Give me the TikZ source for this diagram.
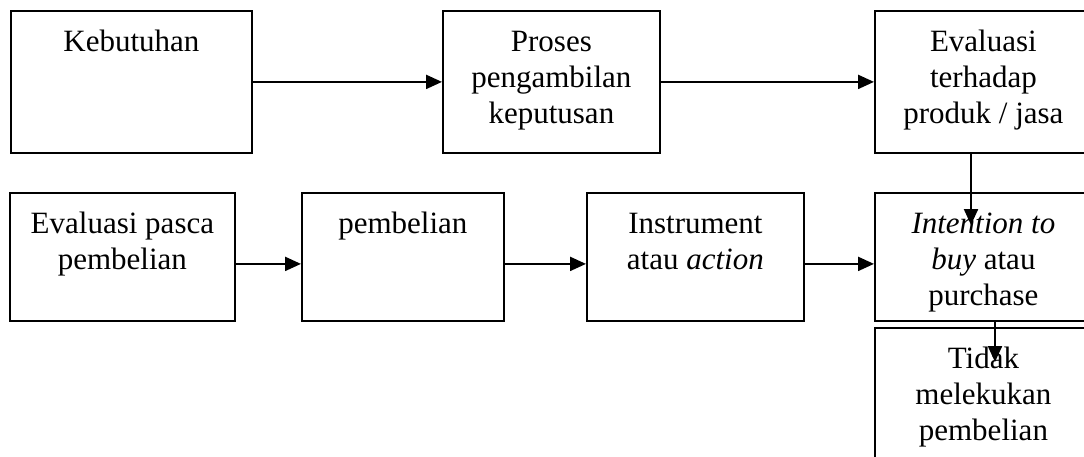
\documentclass[tikz,border=0pt]{standalone}
\usepackage{fontspec}
\setmainfont{Liberation Serif}
\usetikzlibrary{arrows.meta,positioning,calc}
\newcommand{\bx}[3]{\parbox[t][#2pt][t]{#1pt}{\centering\rule{0pt}{41pt}#3}}
\begin{document}
\begin{tikzpicture}[x=1pt,y=-1pt,
  box/.style={draw,line width=1.8pt,inner sep=0pt,anchor=north west,
    font=\fontsize{31}{36}\selectfont},
  arr/.style={line width=2.2pt,-{Triangle[length=16pt,width=14pt]}}]
\useasboundingbox (0,0) rectangle (1084,456);
\node[box] (keb) at (10,10) {\bx{241}{142}{Kebutuhan}};
\node[box] (pro) at (442,10) {\bx{217}{142}{Proses\\pengambilan\\keputusan}};
\node[box] (eva) at (874,10) {\bx{217}{142}{Evaluasi\\terhadap\\produk / jasa}};
\node[box] (pas) at (9,192) {\bx{225}{128}{Evaluasi pasca\\pembelian}};
\node[box] (pem) at (301,192) {\bx{202}{128}{pembelian}};
\node[box] (ins) at (586,192) {\bx{217}{128}{Instrument\\atau \textit{action}}};
\node[box] (int) at (874,192) {\bx{217}{128}{\textit{Intention to}\\\textit{buy} atau\\purchase}};
\node[box] (tid) at (874,327) {\bx{217}{140}{Tidak\\melekukan\\pembelian}};
\coordinate (t1) at (971,225);
\coordinate (t2) at (995,362);
\draw[arr] (keb.east) -- (pro.west);
\draw[arr] (pro.east) -- (eva.west);
\draw[arr] (eva.south -| t1) -- (t1);
\draw[arr] ([yshift=-7pt]pas.east) -- ([yshift=-7pt]pem.west);
\draw[arr] ([yshift=-7pt]pem.east) -- ([yshift=-7pt]ins.west);
\draw[arr] ([yshift=-7pt]ins.east) -- ([yshift=-7pt]int.west);
\draw[arr] (int.south -| t2) -- (t2);
\end{tikzpicture}
\end{document}
